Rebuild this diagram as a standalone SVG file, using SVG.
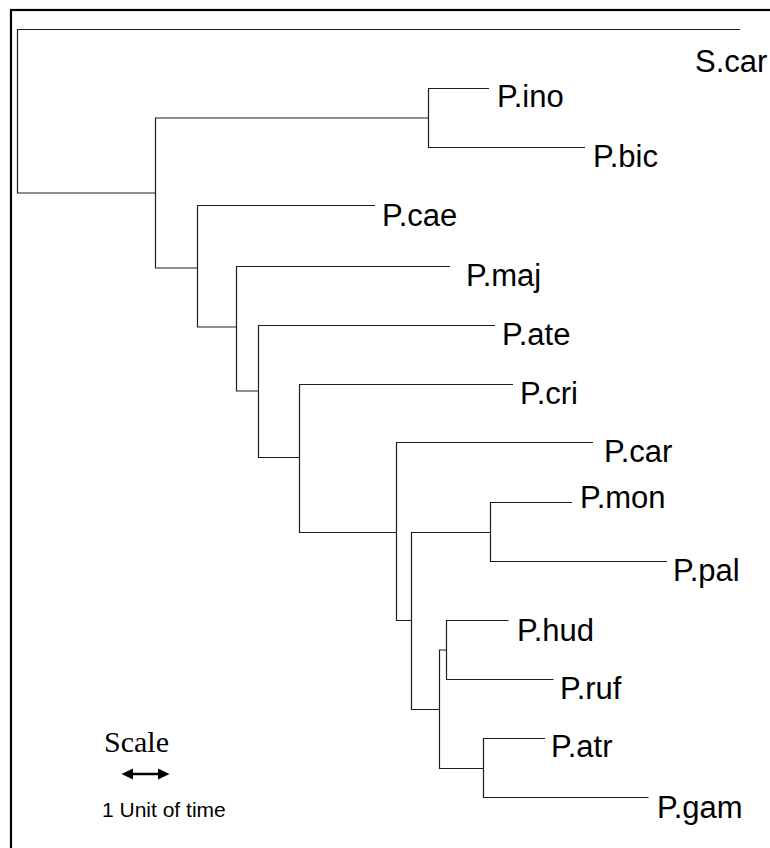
<svg xmlns="http://www.w3.org/2000/svg" width="770" height="848" viewBox="0 0 770 848">
  <style>
    .branch { fill: none; stroke: #1e1e1e; stroke-width: 1.2; }
    .taxon { font-family: "Liberation Sans", Arial, sans-serif; font-size: 31px; fill: #000; }
    .scale-title { font-family: "Liberation Serif", "Times New Roman", serif; font-size: 30px; fill: #000; }
    .scale-note { font-family: "Liberation Sans", Arial, sans-serif; font-size: 21px; fill: #000; }
    .scale-head { fill: #000; }
  </style>

  <rect width="770" height="848" fill="#fff"/>
  <!-- frame (continues past the right and bottom edges) -->
  <rect x="11" y="10" width="800" height="900" fill="none" stroke="#000" stroke-width="2.2"/>

  <!-- branches of the tree -->
  <g id="connectors">
    <!-- root: outgroup and ingroup stem -->
    <path class="branch" d="M740,29.5 H17.5 V193 H155.5"/>
    <!-- node A -->
    <path class="branch" d="M428.5,118 H155.5 V268 H197.5"/>
    <!-- node B: P.ino / P.bic -->
    <path class="branch" d="M489,88.5 H428.5 V147.5 H585"/>
    <!-- node C: P.cae -->
    <path class="branch" d="M375,205.5 H197.5 V327 H236.5"/>
    <!-- node D: P.maj -->
    <path class="branch" d="M450,266.5 H236.5 V391 H258.5"/>
    <!-- node E: P.ate -->
    <path class="branch" d="M495,325.5 H258.5 V457.5 H299.5"/>
    <!-- node F: P.cri -->
    <path class="branch" d="M513,384.5 H299.5 V532.5 H396.5"/>
    <!-- node G: P.car -->
    <path class="branch" d="M593,442.5 H396.5 V620.5 H411.5"/>
    <!-- node H -->
    <path class="branch" d="M490.5,532.5 H411.5 V709.5 H439.5"/>
    <!-- node I: P.mon / P.pal -->
    <path class="branch" d="M572,502.5 H490.5 V561.5 H667"/>
    <!-- node J -->
    <path class="branch" d="M446.5,650 H439.5 V768.5 H483.5"/>
    <!-- node K: P.hud / P.ruf -->
    <path class="branch" d="M508.5,620.5 H446.5 V679.5 H553.5"/>
    <!-- node L: P.atr / P.gam -->
    <path class="branch" d="M545,738.5 H483.5 V797.5 H648.5"/>
  </g>

  <!-- taxon labels -->
  <g id="S_car"><text class="taxon" x="695" y="72">S.car</text></g>
  <g id="P_ino"><text class="taxon" x="497" y="107">P.ino</text></g>
  <g id="P_bic"><text class="taxon" x="593" y="166.5">P.bic</text></g>
  <g id="P_cae"><text class="taxon" x="382" y="226">P.cae</text></g>
  <g id="P_maj"><text class="taxon" x="466" y="286">P.maj</text></g>
  <g id="P_ate"><text class="taxon" x="502" y="345">P.ate</text></g>
  <g id="P_cri"><text class="taxon" x="520" y="404">P.cri</text></g>
  <g id="P_car"><text class="taxon" x="604" y="462">P.car</text></g>
  <g id="P_mon"><text class="taxon" x="580" y="508">P.mon</text></g>
  <g id="P_pal"><text class="taxon" x="673" y="581">P.pal</text></g>
  <g id="P_hud"><text class="taxon" x="517" y="641">P.hud</text></g>
  <g id="P_ruf"><text class="taxon" x="560" y="698.5">P.ruf</text></g>
  <g id="P_atr"><text class="taxon" x="551" y="757">P.atr</text></g>
  <g id="P_gam"><text class="taxon" x="657" y="817.5">P.gam</text></g>

  <!-- scale bar -->
  <g id="scale">
    <text class="scale-title" x="104" y="752">Scale</text>
    <line x1="130" y1="774" x2="161" y2="774" stroke="#000" stroke-width="2.5"/>
    <polygon class="scale-head" points="121.5,774 133,768.5 133,779.5"/>
    <polygon class="scale-head" points="169.5,774 158,768.5 158,779.5"/>
    <text class="scale-note" x="102" y="817">1 Unit of time</text>
  </g>
</svg>
